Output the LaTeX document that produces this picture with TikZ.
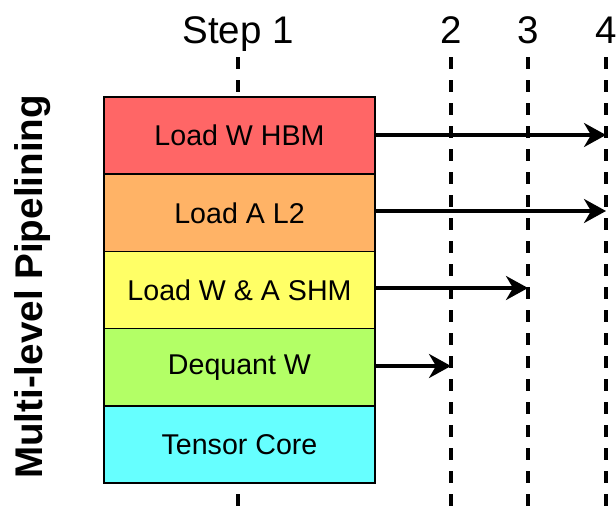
\documentclass[tikz,border=0pt]{standalone}
\usepackage{fontspec}
\setmainfont{Liberation Sans}
\usetikzlibrary{arrows.meta}
\begin{document}
\begin{tikzpicture}[x=1pt,y=-1pt,
  stage/.style={draw=black,line width=1.5pt,minimum width=271pt,minimum height=77.2pt,
    inner sep=0pt,font=\fontsize{28.6}{31}\selectfont},
  stepline/.style={line width=3.2pt,dash pattern=on 12pt off 11pt},
  steplabel/.style={anchor=base,inner sep=0pt,font=\fontsize{38.5}{41}\selectfont},
  flow/.style={line width=3.4pt,-{Stealth[length=22pt,width=24pt,inset=7pt]}}]
\useasboundingbox (0,0) rectangle (616,506);

% step markers
\foreach \n/\x in {1/238,2/451,3/528,4/606}{
  \coordinate (t\n) at (\x,57);
  \coordinate (b\n) at (\x,506);
  \draw[stepline] (t\n) -- (b\n);
}
\node[steplabel] (l1) at (238,43) {Step 1};
\node[steplabel] (l2) at (451,43) {2};
\node[steplabel] (l3) at (528,43) {3};
\node[steplabel] (l4) at (606,43) {4};

% pipeline stages
\node[stage,fill={rgb,255:red,255;green,102;blue,102}] (r1) at (239.5,135.6) {Load W HBM};
\node[stage,fill={rgb,255:red,255;green,179;blue,102}] (r2) at (239.5,212.8) {Load A L2};
\node[stage,fill={rgb,255:red,255;green,255;blue,102}] (r3) at (239.5,290.0) {Load W \& A SHM};
\node[stage,fill={rgb,255:red,179;green,255;blue,102}] (r4) at (239.5,367.2) {Dequant W};
\node[stage,fill={rgb,255:red,102;green,255;blue,255}] (r5) at (239.5,444.4) {Tensor Core};

% arrow ends on the step lines
\coordinate (e1) at (606,135);
\coordinate (e2) at (606,211);
\coordinate (e3) at (528,288);
\coordinate (e4) at (451,366);
\draw[flow] (r1.east |- e1) -- (e1);
\draw[flow] (r2.east |- e2) -- (e2);
\draw[flow] (r3.east |- e3) -- (e3);
\draw[flow] (r4.east |- e4) -- (e4);

% side title
\node[rotate=90,anchor=base,inner sep=0pt,font=\bfseries\fontsize{38.6}{41}\selectfont]
  (side) at (42,287) {Multi-level Pipelining};
\end{tikzpicture}
\end{document}
